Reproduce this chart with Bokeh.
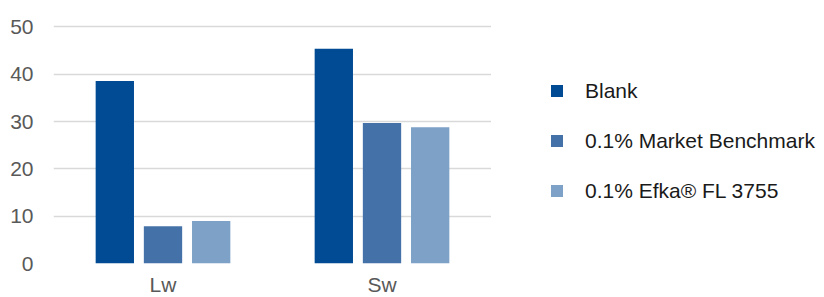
from bokeh.plotting import figure
from bokeh.models import ColumnDataSource, FactorRange, Range1d, FixedTicker, Legend, LegendItem
from bokeh.layouts import row
from bokeh.transform import dodge
from bokeh.embed import file_html
from bokeh.resources import INLINE

categories = ["Lw", "Sw"]
series_names = ["Blank", "0.1% Market Benchmark", "0.1% Efka\u00ae FL 3755"]
blank = [38.6, 45.4]
market = [7.9, 29.7]
efka = [9.0, 28.8]
y_ticks = [0, 10, 20, 30, 40, 50]

colors = ["#004B93", "#4472A8", "#7DA1C7"]
FONT = "Liberation Sans"

src = ColumnDataSource(dict(cat=categories, blank=blank, market=market, efka=efka))

p = figure(frame_width=438, frame_height=242, x_range=FactorRange(*categories, range_padding=0),
           y_range=Range1d(0, 51.16), output_backend="svg", toolbar_location=None,
           min_border_left=53, min_border_right=0, min_border_top=21, min_border_bottom=34)

offsets = [-0.22, 0.0, 0.22]
keys = ["blank", "market", "efka"]
for k, off, c in zip(keys, offsets, colors):
    p.vbar(x=dodge("cat", off, range=p.x_range), top=k, width=0.175, source=src,
           fill_color=c, line_color=None)

p.outline_line_color = None
p.xgrid.grid_line_color = None
p.ygrid.grid_line_color = "#d9d9d9"
p.ygrid.grid_line_width = 1.5
p.yaxis.ticker = FixedTicker(ticks=y_ticks)

for ax in (p.xaxis[0], p.yaxis[0]):
    ax.axis_line_color = None
    ax.major_tick_line_color = None
    ax.minor_tick_line_color = None
    ax.major_label_text_font = FONT
    ax.major_label_text_font_size = "21px"
    ax.major_label_text_color = "#595959"
p.yaxis.major_label_standoff = 14
p.xaxis.major_label_standoff = 3

# legend panel: a separate figure; its zero-width bars draw nothing,
# so only the legend (same colours as the series) is visible
q = figure(width=333, height=297, x_range=FactorRange(*categories), y_range=Range1d(-2, -1),
           x_axis_type=None, y_axis_type=None, output_backend="svg", toolbar_location=None,
           min_border=0)
q.outline_line_color = None
q.grid.visible = False
items = []
for n, k, c in zip(series_names, keys, colors):
    r = q.vbar(x="cat", top=k, width=0, source=src, fill_color=c, line_color=None)
    items.append(LegendItem(label=n, renderers=[r]))

legend = Legend(items=items, location=(58, 59), glyph_width=15, glyph_height=15,
                label_standoff=21, label_height=25, spacing=25, padding=0, margin=0,
                border_line_color=None, background_fill_alpha=0, label_text_font=FONT,
                label_text_font_size="21px", label_text_color="#1a1a1a")
q.add_layout(legend, "center")

open("out.html", "w").write(file_html(row(p, q), INLINE))
